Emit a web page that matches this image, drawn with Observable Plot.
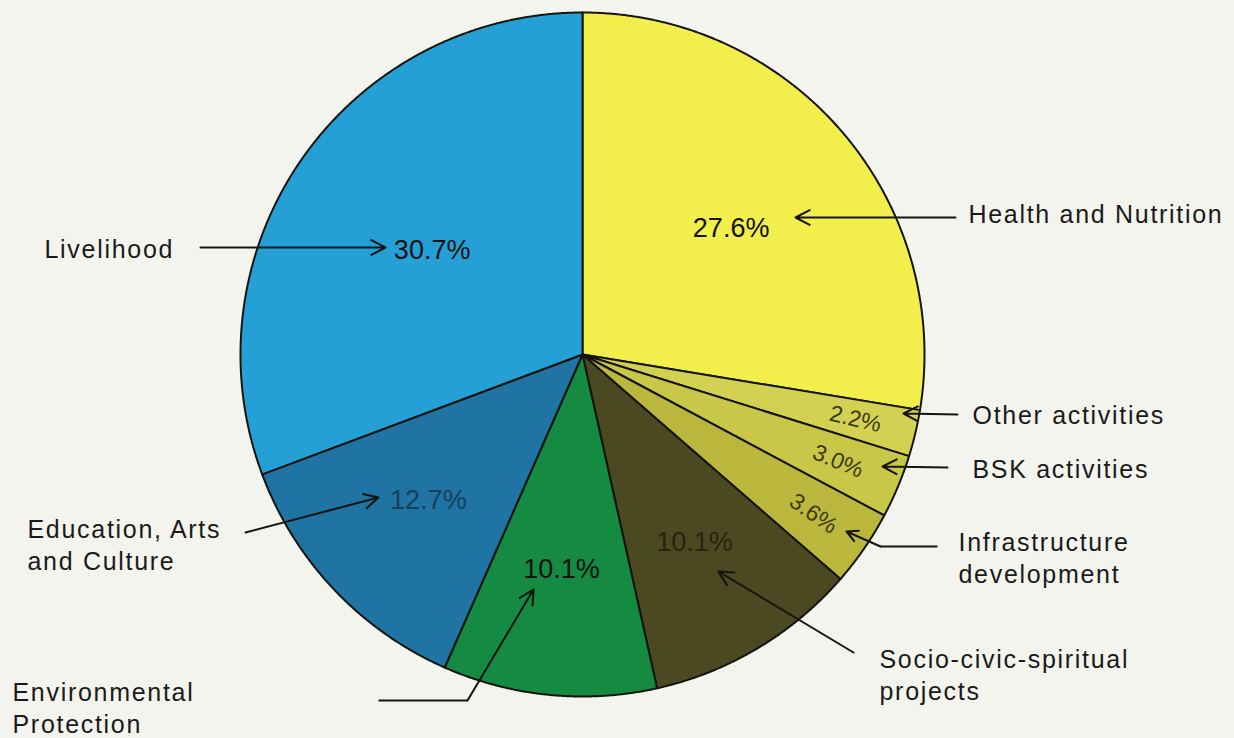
<!DOCTYPE html>
<html>
<head>
<meta charset="utf-8">
<script src="https://cdn.jsdelivr.net/npm/d3@7"></script>
<script src="https://cdn.jsdelivr.net/npm/@observablehq/plot@0.6"></script>
<style>
  html, body { margin: 0; padding: 0; background: #f4f4ef; }
  #chart { width: 1234px; height: 738px; overflow: hidden; }
</style>
</head>
<body>
<div id="chart"></div>
<script>
// ---- data ----
const categories = ["Health and Nutrition", "Other activities", "BSK activities", "Infrastructure development",
  "Socio-civic-spiritual projects", "Environmental Protection", "Education, Arts and Culture", "Livelihood"];
const shares = [27.6, 2.2, 3.0, 3.6, 10.1, 10.1, 12.7, 30.7];
const categoryLines = ["Health and Nutrition", "Other activities", "BSK activities", "Infrastructure\ndevelopment",
  "Socio-civic-spiritual\nprojects", "Environmental\nProtection", "Education, Arts\nand Culture", "Livelihood"];

// ---- styles ----
const sliceColors = ["#f2ee4c", "#d3d152", "#c9c747", "#bab73c", "#4a4922", "#148a42", "#1f74a4", "#25a0d6"];
const pctColors = ["#111", "#3b3a12", "#3b3a12", "#3b3a12", "#26250f", "#111", "#183f5a", "#111"];
const pctSizes = [27, 23, 23, 23, 27, 27, 27, 27];

// ---- layout (pixel offsets from pie centre) ----
const R = 342;
const labelRadius = [0.57, 0.82, 0.81, 0.82, 0.64, 0.63, 0.62, 0.535];
const rotateSmall = [false, true, true, true, false, false, false, false];
const nameAnchor = [[386, -142], [390, 59], [390, 113], [376, 202], [297, 319], [-570, 352], [-555, 189], [-538, -107]];
const leaderPaths = [
  [[373, -137], [213, -137]],
  [[375, 60], [321, 59]],
  [[365, 113], [300, 112]],
  [[355, 192], [298, 192], [264, 177]],
  [[271, 298], [136, 217]],
  [[-204, 346], [-115, 346], [-49, 235]],
  [[-337, 178], [-204, 143]],
  [[-382, -107], [-197, -107]]
];

// ---- geometry from data ----
const arcs = d3.pie().sort(null).value(d => d)(shares);
const slicePts = [];
arcs.forEach((a, i) => {
  const name = categories[i];
  slicePts.push({name, x: 0, y: 0});
  const n = Math.ceil((a.endAngle - a.startAngle) / 0.004) + 1;
  for (let k = 0; k <= n; k++) {
    const t = a.startAngle + (a.endAngle - a.startAngle) * k / n;
    slicePts.push({name, x: R * Math.sin(t), y: -R * Math.cos(t)});
  }
  slicePts.push({name, x: 0, y: 0});
});

const pctLabels = arcs.map((a, i) => {
  const m = (a.startAngle + a.endAngle) / 2;
  const r = R * labelRadius[i];
  return {
    x: r * Math.sin(m), y: -r * Math.cos(m),
    text: shares[i].toFixed(1) + "%",
    rotate: rotateSmall[i] ? m * 180 / Math.PI - 90 : 0,
    fill: pctColors[i], size: pctSizes[i]
  };
});

const nameLabels = categoryLines.map((t, i) => ({x: nameAnchor[i][0], y: nameAnchor[i][1], text: t}));

const leaderLines = [];
const leaderHeads = [];
leaderPaths.forEach((p, i) => {
  for (let k = 0; k < p.length - 2; k++) {
    leaderLines.push({x1: p[k][0], y1: p[k][1], x2: p[k + 1][0], y2: p[k + 1][1]});
  }
  const a = p[p.length - 2], b = p[p.length - 1];
  leaderHeads.push({x1: a[0], y1: a[1], x2: b[0], y2: b[1]});
});

const chart = Plot.plot({
  width: 1234,
  height: 738,
  margin: 0,
  x: {domain: [-582, 652], axis: null},
  y: {domain: [-354, 384], axis: null, reverse: true},
  color: {domain: categories, range: sliceColors},
  style: {background: "#f4f4ef", fontFamily: "'Liberation Sans', Arial, sans-serif"},
  marks: [
    Plot.line(slicePts, {x: "x", y: "y", z: "name", fill: "name", stroke: "#151510", strokeWidth: 2, strokeLinejoin: "round", curve: "linear"}),
    Plot.text(pctLabels, {x: "x", y: "y", text: "text", rotate: "rotate", fill: d => d.fill, fontSize: d => d.size}),
    Plot.link(leaderLines, {x1: "x1", y1: "y1", x2: "x2", y2: "y2", stroke: "#151510", strokeWidth: 2}),
    Plot.arrow(leaderHeads, {x1: "x1", y1: "y1", x2: "x2", y2: "y2", stroke: "#151510", strokeWidth: 2, headLength: 12, headAngle: 55}),
    Plot.text(nameLabels, {x: "x", y: "y", text: "text", textAnchor: "start", lineAnchor: "middle", lineHeight: 1.28, fontSize: 25, fill: "#1a1a1a"})
  ]
});
// letter-spacing for the category names (last text layer)
const textLayers = d3.select(chart).selectAll('g[aria-label="text"]').nodes();
d3.select(textLayers[textLayers.length - 1]).style("letter-spacing", "1.7px");
document.getElementById("chart").appendChild(chart);
</script>
</body>
</html>
